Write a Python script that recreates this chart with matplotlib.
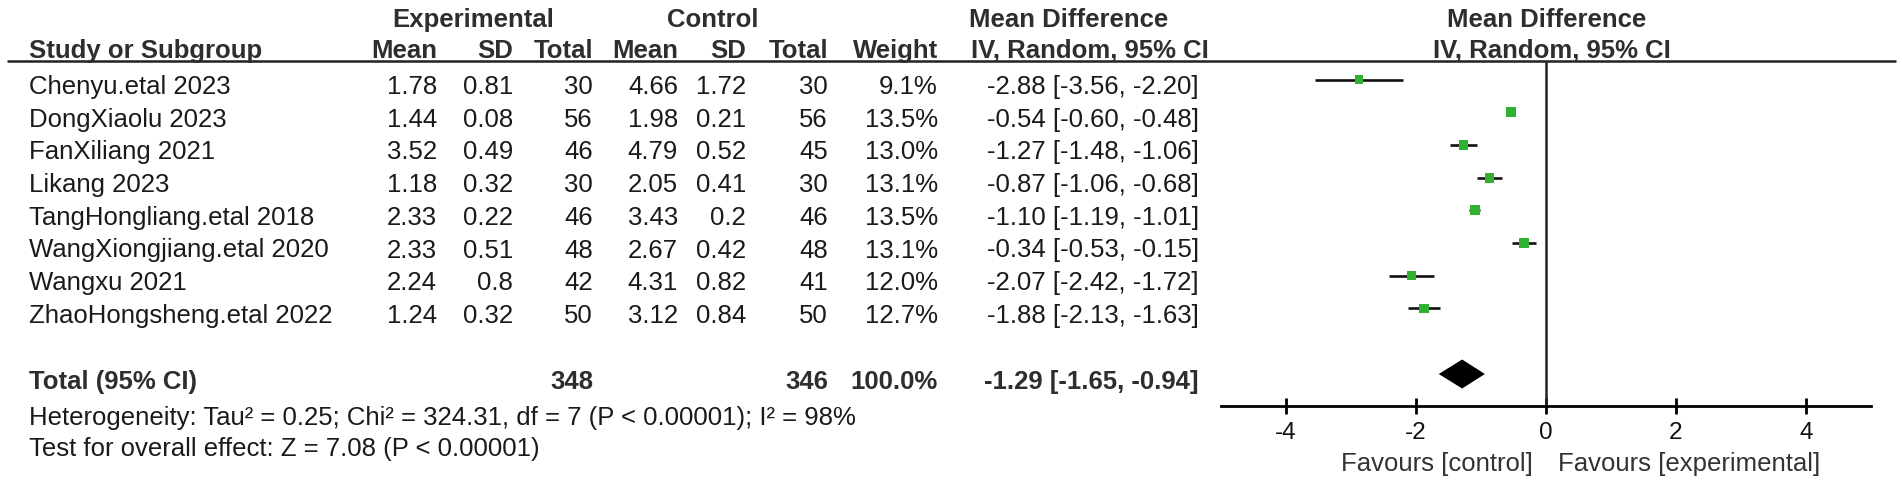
import matplotlib
matplotlib.use("Agg")
import matplotlib.pyplot as plt
from matplotlib.patches import Polygon
import numpy as np

plt.rcParams['font.family'] = ['Liberation Sans', 'DejaVu Sans']

studies = ["Chenyu.etal 2023", "DongXiaolu 2023", "FanXiliang 2021", "Likang 2023",
           "TangHongliang.etal 2018", "WangXiongjiang.etal 2020", "Wangxu 2021",
           "ZhaoHongsheng.etal 2022"]
exp_mean = [1.78, 1.44, 3.52, 1.18, 2.33, 2.33, 2.24, 1.24]
exp_sd = [0.81, 0.08, 0.49, 0.32, 0.22, 0.51, 0.8, 0.32]
exp_n = [30, 56, 46, 30, 46, 48, 42, 50]
ctl_mean = [4.66, 1.98, 4.79, 2.05, 3.43, 2.67, 4.31, 3.12]
ctl_sd = [1.72, 0.21, 0.52, 0.41, 0.2, 0.42, 0.82, 0.84]
ctl_n = [30, 56, 45, 30, 46, 48, 41, 50]
weight = [9.1, 13.5, 13.0, 13.1, 13.5, 13.1, 12.0, 12.7]
md = [-2.88, -0.54, -1.27, -0.87, -1.10, -0.34, -2.07, -1.88]
ci_lo = [-3.56, -0.60, -1.48, -1.06, -1.19, -0.53, -2.42, -2.13]
ci_hi = [-2.20, -0.48, -1.06, -0.68, -1.01, -0.15, -1.72, -1.63]
tot_exp_n, tot_ctl_n, tot_weight = 348, 346, 100.0
tot_md, tot_lo, tot_hi = -1.29, -1.65, -0.94
het_text = "Heterogeneity: Tau\u00b2 = 0.25; Chi\u00b2 = 324.31, df = 7 (P < 0.00001); I\u00b2 = 98%"
effect_text = "Test for overall effect: Z = 7.08 (P < 0.00001)"
ticks = [-4, -2, 0, 2, 4]

W, H = 1902, 484
BODY = "#1a1a1a"; HEAD = "#2e2e2e"; GREEN = "#31b131"
FS = 18.5

fig = plt.figure(figsize=(W / 100, H / 100), dpi=100)
tab = fig.add_axes([0, 0, 1, 1]); tab.set_xlim(0, W); tab.set_ylim(H, 0); tab.axis("off")

# layout (pixel positions, text baselines)
LINE_Y = 61; AXIS_Y = 406
X0, X1 = 1221, 1871
row_b = 94 + 32.7 * np.arange(len(studies))
TOT_B = 389
cols = [437, 513, 593, 678, 746, 828, 938]
CI_R = 1199

def t(x, yb, s, ha="right", bold=False, color=None, fs=FS):
    tab.text(x, yb, s, ha=ha, va="baseline", fontsize=fs,
             fontweight="bold" if bold else "normal",
             color=color or (HEAD if bold else BODY))

# headers
t(473, 27, "Experimental", ha="center", bold=True)
t(713, 27, "Control", ha="center", bold=True)
t(1069, 27, "Mean Difference", ha="center", bold=True)
t(1547, 27, "Mean Difference", ha="center", bold=True)
t(29, 58, "Study or Subgroup", ha="left", bold=True)
for x, s in zip(cols, ["Mean", "SD", "Total", "Mean", "SD", "Total", "Weight"]):
    t(x, 58, s, bold=True)
t(1090, 58, "IV, Random, 95% CI", ha="center", bold=True)
t(1552, 58, "IV, Random, 95% CI", ha="center", bold=True)
tab.plot([7, 1896], [LINE_Y, LINE_Y], color="#222222", lw=1.8, solid_capstyle="butt")

# study rows
for i, name in enumerate(studies):
    y = row_b[i]
    t(29, y, name, ha="left")
    vals = [f"{exp_mean[i]:g}", f"{exp_sd[i]:g}", str(exp_n[i]),
            f"{ctl_mean[i]:g}", f"{ctl_sd[i]:g}", str(ctl_n[i]), f"{weight[i]:.1f}%"]
    for x, s in zip(cols, vals):
        t(x, y, s)
    t(CI_R, y, f"{md[i]:.2f} [{ci_lo[i]:.2f}, {ci_hi[i]:.2f}]")

# total rows
t(29, TOT_B, "Total (95% CI)", ha="left", bold=True)
t(cols[2], TOT_B, str(tot_exp_n), bold=True)
t(cols[5], TOT_B, str(tot_ctl_n), bold=True)
t(cols[6], TOT_B, f"{tot_weight:.1f}%", bold=True)
t(CI_R, TOT_B, f"{tot_md:.2f} [{tot_lo:.2f}, {tot_hi:.2f}]", bold=True)
t(29, 425, het_text, ha="left")
t(29, 456, effect_text, ha="left")
t(1533, 471, "Favours [control]", color="#333333")
t(1558, 471, "Favours [experimental]", ha="left", color="#333333")

# forest panel
fp = fig.add_axes([X0 / W, (H - AXIS_Y) / H, (X1 - X0) / W, (AXIS_Y - LINE_Y) / H])
fp.set_xlim(-5, 5); fp.set_ylim(AXIS_Y, LINE_Y)
fp.patch.set_alpha(0)
for sp in ["top", "right", "left"]:
    fp.spines[sp].set_visible(False)
fp.spines["bottom"].set_linewidth(2.0)
fp.set_yticks([])
fp.set_xticks(ticks)
fp.set_xticklabels([str(v) for v in ticks])
fp.tick_params(axis="x", direction="inout", length=11, width=2.0, pad=6,
               labelsize=17.5, labelcolor="#111111")
fp.axvline(0, color="#222222", lw=1.8)

mk_y = row_b - 14.5
fp.hlines(mk_y, ci_lo, ci_hi, color="#111111", lw=1.9)
side = 7.2 * np.sqrt(np.array(weight) / 13.5)
fp.scatter(md, mk_y, s=side ** 2, marker="s", color=GREEN, linewidths=0, zorder=3)
dy = 14.5; yd = TOT_B - 15
fp.add_patch(Polygon([(tot_lo, yd), (tot_md, yd - dy), (tot_hi, yd), (tot_md, yd + dy)],
                     closed=True, color="black", lw=0))

fig.savefig("out.png", dpi=100)
